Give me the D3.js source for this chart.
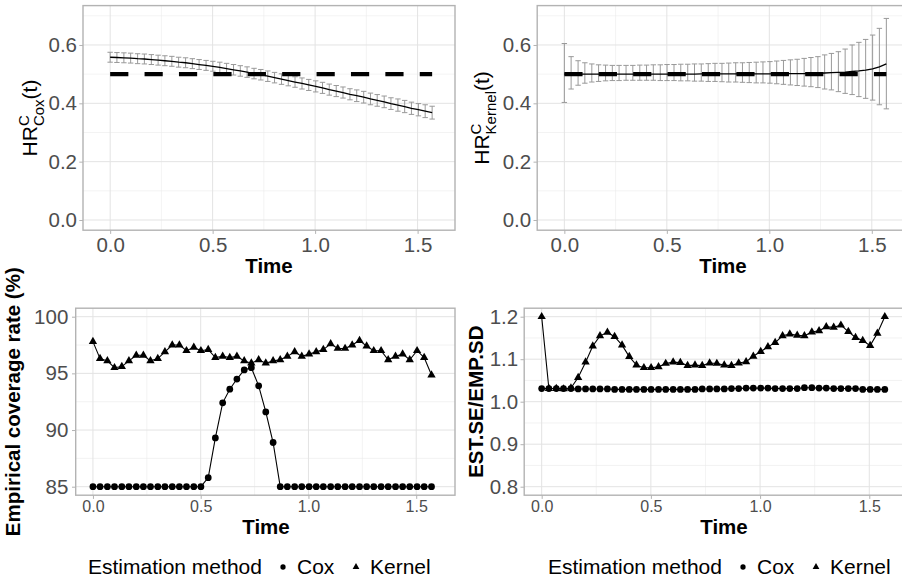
<!DOCTYPE html>
<html>
<head>
<meta charset="utf-8">
<script src="https://cdn.jsdelivr.net/npm/d3@7"></script>
<style>
  body { margin: 0; background: #fff; }
  svg { display: block; }
  text { font-family: "Liberation Sans", Arial, sans-serif; }
</style>
</head>
<body>
<svg id="chart" width="902" height="582"></svg>
<script>
// ---- data ----
const timePoints = [0.000, 0.033, 0.067, 0.100, 0.134, 0.167, 0.201, 0.234, 0.267, 0.301,
  0.334, 0.368, 0.401, 0.434, 0.468, 0.501, 0.535, 0.568, 0.602, 0.635,
  0.668, 0.702, 0.735, 0.769, 0.802, 0.836, 0.869, 0.902, 0.936, 0.969,
  1.003, 1.036, 1.069, 1.103, 1.136, 1.170, 1.203, 1.237, 1.270, 1.303,
  1.337, 1.370, 1.404, 1.437, 1.470, 1.504, 1.537, 1.571];

// top left: Cox estimate of HR(t) with error bars
const coxHR = [0.558, 0.557, 0.556, 0.555, 0.553, 0.552, 0.550, 0.548, 0.546, 0.544,
  0.541, 0.539, 0.536, 0.533, 0.530, 0.527, 0.523, 0.519, 0.515, 0.511,
  0.507, 0.502, 0.498, 0.493, 0.488, 0.483, 0.478, 0.473, 0.468, 0.463,
  0.458, 0.453, 0.447, 0.442, 0.437, 0.431, 0.426, 0.421, 0.415, 0.410,
  0.405, 0.399, 0.394, 0.389, 0.383, 0.378, 0.373, 0.368];
const coxHalfWidth = [0.017, 0.017, 0.017, 0.017, 0.017, 0.017, 0.017, 0.017, 0.017, 0.017,
  0.017, 0.017, 0.017, 0.017, 0.017, 0.017, 0.018, 0.018, 0.018, 0.018,
  0.018, 0.018, 0.018, 0.018, 0.018, 0.018, 0.018, 0.018, 0.019, 0.019,
  0.019, 0.019, 0.019, 0.019, 0.019, 0.019, 0.020, 0.020, 0.020, 0.020,
  0.020, 0.020, 0.021, 0.021, 0.021, 0.021, 0.022, 0.022];

// top right: kernel estimate of HR(t) with error bars
const kernelHR = [0.500, 0.500, 0.500, 0.500, 0.500, 0.500, 0.500, 0.500, 0.500, 0.500,
  0.500, 0.500, 0.500, 0.500, 0.500, 0.500, 0.500, 0.500, 0.500, 0.500,
  0.501, 0.501, 0.501, 0.501, 0.501, 0.501, 0.501, 0.501, 0.501, 0.501,
  0.501, 0.502, 0.502, 0.502, 0.502, 0.502, 0.502, 0.503, 0.504, 0.505,
  0.506, 0.507, 0.509, 0.511, 0.514, 0.518, 0.525, 0.535];
const kernelUpper = [0.605, 0.560, 0.546, 0.539, 0.535, 0.532, 0.531, 0.530, 0.530, 0.530,
  0.530, 0.531, 0.531, 0.532, 0.532, 0.533, 0.533, 0.534, 0.534, 0.535,
  0.535, 0.536, 0.537, 0.537, 0.538, 0.539, 0.539, 0.540, 0.541, 0.542,
  0.543, 0.545, 0.547, 0.549, 0.551, 0.554, 0.557, 0.560, 0.566, 0.571,
  0.577, 0.586, 0.600, 0.609, 0.619, 0.634, 0.657, 0.691];
const kernelLower = [0.403, 0.449, 0.462, 0.469, 0.473, 0.475, 0.477, 0.478, 0.478, 0.479,
  0.479, 0.479, 0.479, 0.479, 0.478, 0.478, 0.478, 0.477, 0.477, 0.476,
  0.476, 0.475, 0.475, 0.474, 0.473, 0.473, 0.472, 0.471, 0.470, 0.470,
  0.469, 0.467, 0.465, 0.463, 0.461, 0.459, 0.457, 0.454, 0.449, 0.446,
  0.440, 0.434, 0.430, 0.423, 0.417, 0.411, 0.395, 0.381];

const trueHR = 0.5;

// bottom left: empirical coverage rate (%)
const coverageCox = [85, 85, 85, 85, 85, 85, 85, 85, 85, 85,
  85, 85, 85, 85, 85, 85, 85.8, 89.3, 92.4, 93.6,
  94.5, 95.3, 95.5, 93.9, 91.6, 88.9, 85, 85, 85, 85,
  85, 85, 85, 85, 85, 85, 85, 85, 85, 85,
  85, 85, 85, 85, 85, 85, 85, 85];
const coverageKernel = [97.8, 96.3, 96.1, 95.5, 95.6, 96.1, 96.6, 96.6, 96.1, 96.3,
  96.9, 97.5, 97.5, 97.0, 97.3, 97.0, 97.1, 96.4, 96.5, 96.4,
  96.5, 96.1, 95.9, 96.2, 95.9, 96.1, 96.2, 96.5, 96.9, 96.5,
  96.7, 96.9, 97.1, 97.6, 97.2, 97.2, 97.5, 97.9, 97.4, 97.0,
  97.0, 96.2, 96.5, 96.7, 96.2, 97.0, 96.4, 94.85];

// bottom right: EST.SE / EMP.SD
const ratioCox = [1.031, 1.031, 1.031, 1.031, 1.031, 1.030, 1.030, 1.030, 1.030, 1.030,
  1.029, 1.029, 1.029, 1.029, 1.029, 1.029, 1.029, 1.029, 1.029, 1.029,
  1.029, 1.029, 1.030, 1.030, 1.030, 1.030, 1.031, 1.031, 1.032, 1.032,
  1.032, 1.032, 1.031, 1.031, 1.031, 1.031, 1.033, 1.033, 1.032, 1.032,
  1.031, 1.031, 1.031, 1.031, 1.029, 1.029, 1.029, 1.029];
const ratioKernel = [1.200, 1.031, 1.031, 1.030, 1.032, 1.057, 1.093, 1.131, 1.155, 1.163,
  1.153, 1.133, 1.106, 1.086, 1.080, 1.080, 1.082, 1.090, 1.093, 1.092,
  1.085, 1.086, 1.085, 1.091, 1.090, 1.086, 1.085, 1.091, 1.094, 1.107,
  1.118, 1.129, 1.139, 1.155, 1.159, 1.156, 1.155, 1.164, 1.167, 1.176,
  1.175, 1.180, 1.165, 1.151, 1.144, 1.132, 1.161, 1.200];

// ticks
const timeTicks = [0, 0.5, 1.0, 1.5];
const timeMinor = [0.25, 0.75, 1.25];
const hrTicks = [0, 0.2, 0.4, 0.6];
const hrMinor = [0.1, 0.3, 0.5, 0.7];
const coverageTicks = [85, 90, 95, 100];
const coverageMinor = [87.5, 92.5, 97.5];
const ratioTicks = [0.8, 0.9, 1.0, 1.1, 1.2];
const ratioMinor = [0.85, 0.95, 1.05, 1.15];
const methods = ["Cox", "Kernel"];

// ---- drawing ----
const svg = d3.select("#chart");
const tickColor = "#b3b3b3";
const labelColor = "#4d4d4d";

// builds one ggplot-like panel and returns its scales
function makePanel(box, xDomain, yDomain, opt) {
  const x = d3.scaleLinear().domain(xDomain).range([box.left, box.right]);
  const y = d3.scaleLinear().domain(yDomain).range([box.bottom, box.top]);
  const g = svg.append("g");

  g.append("rect")
    .attr("x", box.left).attr("y", box.top)
    .attr("width", box.right - box.left).attr("height", box.bottom - box.top)
    .attr("fill", "#fff");

  // minor then major grid
  g.selectAll(".vminor").data(timeMinor).enter().append("line")
    .attr("x1", d => x(d)).attr("x2", d => x(d))
    .attr("y1", box.top).attr("y2", box.bottom)
    .attr("stroke", "#ebebeb").attr("stroke-width", 0.6);
  g.selectAll(".hminor").data(opt.yMinor).enter().append("line")
    .attr("x1", box.left).attr("x2", box.right)
    .attr("y1", d => y(d)).attr("y2", d => y(d))
    .attr("stroke", "#ebebeb").attr("stroke-width", 0.6);
  g.selectAll(".vmajor").data(timeTicks).enter().append("line")
    .attr("x1", d => x(d)).attr("x2", d => x(d))
    .attr("y1", box.top).attr("y2", box.bottom)
    .attr("stroke", "#e3e3e3").attr("stroke-width", 1);
  g.selectAll(".hmajor").data(opt.yTicks).enter().append("line")
    .attr("x1", box.left).attr("x2", box.right)
    .attr("y1", d => y(d)).attr("y2", d => y(d))
    .attr("stroke", "#e3e3e3").attr("stroke-width", 1);

  const marks = svg.append("g");

  // axes
  const xAxis = svg.append("g")
    .attr("transform", `translate(0,${box.bottom})`)
    .call(d3.axisBottom(x).tickValues(timeTicks).tickFormat(d3.format(".1f"))
      .tickSize(3.7).tickPadding(opt.xPad));
  const yAxis = svg.append("g")
    .attr("transform", `translate(${box.left},0)`)
    .call(d3.axisLeft(y).tickValues(opt.yTicks).tickFormat(opt.yFormat)
      .tickSize(3.7).tickPadding(opt.yPad));
  [xAxis, yAxis].forEach(a => {
    a.select(".domain").remove();
    a.selectAll(".tick line").attr("stroke", tickColor).attr("stroke-width", 1);
    a.selectAll(".tick text").attr("fill", labelColor)
      .style("font-family", '"Liberation Sans", Arial, sans-serif');
  });
  xAxis.selectAll(".tick text").style("font-size", opt.xFont + "px");
  yAxis.selectAll(".tick text").style("font-size", opt.yFont + "px");

  // panel border on top
  const border = svg.append("rect")
    .attr("x", box.left).attr("y", box.top)
    .attr("width", box.right - box.left).attr("height", box.bottom - box.top)
    .attr("fill", "none").attr("stroke", tickColor).attr("stroke-width", 1.4);

  // x title
  svg.append("text")
    .attr("x", opt.timeX).attr("y", opt.timeY)
    .attr("text-anchor", "middle")
    .style("font-size", "20.5px").style("font-weight", "bold")
    .text("Time");

  return { x, y, marks, border };
}

// y title of the form HR^C_sub(t)
function hrTitle(cx, cy, sub) {
  const t = svg.append("text")
    .attr("transform", `translate(${cx},${cy}) rotate(-90)`)
    .attr("text-anchor", "middle")
    .style("font-size", "21px");
  t.append("tspan").text("HR");
  t.append("tspan").attr("dy", -8.5).style("font-size", "15px").text("C");
  t.append("tspan").attr("dx", -10.8).attr("dy", 15).style("font-size", "15px").text(sub);
  t.append("tspan").attr("dy", -6.5).text("(t)");
}

function boldTitle(cx, cy, label) {
  svg.append("text")
    .attr("transform", `translate(${cx},${cy}) rotate(-90)`)
    .attr("text-anchor", "middle")
    .style("font-size", "20.5px").style("font-weight", "bold")
    .text(label);
}

// error bar panel (top row)
function drawEstimate(p, est, lower, upper) {
  const cap = 2.7;
  const bars = p.marks.selectAll(".bar").data(timePoints).enter().append("g")
    .attr("stroke", "#999").attr("stroke-width", 1);
  bars.append("line")
    .attr("x1", d => p.x(d)).attr("x2", d => p.x(d))
    .attr("y1", (d, i) => p.y(lower[i])).attr("y2", (d, i) => p.y(upper[i]));
  bars.append("line")
    .attr("x1", d => p.x(d) - cap).attr("x2", d => p.x(d) + cap)
    .attr("y1", (d, i) => p.y(lower[i])).attr("y2", (d, i) => p.y(lower[i]));
  bars.append("line")
    .attr("x1", d => p.x(d) - cap).attr("x2", d => p.x(d) + cap)
    .attr("y1", (d, i) => p.y(upper[i])).attr("y2", (d, i) => p.y(upper[i]));

  const line = d3.line().x(d => p.x(d.t)).y(d => p.y(d.v));
  p.marks.append("path")
    .datum(timePoints.map((t, i) => ({ t, v: est[i] })))
    .attr("d", line)
    .attr("fill", "none").attr("stroke", "#000").attr("stroke-width", 1.3);

  p.marks.append("path")
    .datum(timePoints.map(t => ({ t, v: trueHR })))
    .attr("d", line)
    .attr("fill", "none").attr("stroke", "#000").attr("stroke-width", 4.3)
    .attr("stroke-dasharray", "18.2,16.2");
}

// point + line panel (bottom row)
const circleSym = d3.symbol().type(d3.symbolCircle).size(36)();
const triangleSym = d3.symbol().type(d3.symbolTriangle).size(30)();
function drawSeries(p, values, sym) {
  const line = d3.line().x(d => p.x(d.t)).y(d => p.y(d.v));
  const pts = timePoints.map((t, i) => ({ t, v: values[i] }));
  p.marks.append("path").datum(pts).attr("d", line)
    .attr("fill", "none").attr("stroke", "#000").attr("stroke-width", 1.1);
  p.marks.selectAll(null).data(pts).enter().append("path")
    .attr("d", sym)
    .attr("transform", d => `translate(${p.x(d.t)},${p.y(d.v)})`)
    .attr("fill", "#000");
}

function legend(x0, y0) {
  const g = svg.append("g").style("font-size", "21px");
  g.append("text").attr("x", x0).attr("y", y0).text("Estimation method");
  g.append("path").attr("d", d3.symbol().type(d3.symbolCircle).size(22)())
    .attr("transform", `translate(${x0 + 195},${y0 - 7})`);
  g.append("text").attr("x", x0 + 209).attr("y", y0).text(methods[0]);
  g.append("path").attr("d", d3.symbol().type(d3.symbolTriangle).size(20)())
    .attr("transform", `translate(${x0 + 268},${y0 - 7})`);
  g.append("text").attr("x", x0 + 282).attr("y", y0).text(methods[1]);
}

// top left
const pCox = makePanel({ left: 83, right: 455, top: 5.6, bottom: 230.2 },
  [-0.1325, 1.6825], [-0.035, 0.735],
  { yTicks: hrTicks, yMinor: hrMinor, yFormat: d3.format(".1f"),
    xPad: 3.5, yPad: 2.3, xFont: 20.5, yFont: 20.5, timeX: 269, timeY: 273 });
drawEstimate(pCox, coxHR,
  coxHR.map((v, i) => v - coxHalfWidth[i]), coxHR.map((v, i) => v + coxHalfWidth[i]));
hrTitle(37, 118, "Cox");

// top right
const pKernel = makePanel({ left: 537.2, right: 909.2, top: 5.6, bottom: 230.2 },
  [-0.1325, 1.6825], [-0.035, 0.735],
  { yTicks: hrTicks, yMinor: hrMinor, yFormat: d3.format(".1f"),
    xPad: 3.5, yPad: 2.3, xFont: 20.5, yFont: 20.5, timeX: 723, timeY: 273 });
drawEstimate(pKernel, kernelHR, kernelLower, kernelUpper);
hrTitle(489, 118, "Kernel");

// bottom left
const pCoverage = makePanel({ left: 75.7, right: 455, top: 308.2, bottom: 495.2 },
  [-0.08, 1.68], [84.25, 100.75],
  { yTicks: coverageTicks, yMinor: coverageMinor, yFormat: d3.format("d"),
    xPad: 1.5, yPad: 3.7, xFont: 16, yFont: 20.5, timeX: 266, timeY: 534 });
drawSeries(pCoverage, coverageCox, circleSym);
drawSeries(pCoverage, coverageKernel, triangleSym);
boldTitle(20, 401.7, "Empirical coverage rate (%)");
legend(88, 574);

// bottom right
const pRatio = makePanel({ left: 524.2, right: 908.6, top: 308.2, bottom: 495.2 },
  [-0.08, 1.68], [0.78, 1.22],
  { yTicks: ratioTicks, yMinor: ratioMinor, yFormat: d3.format(".1f"),
    xPad: 1.5, yPad: 2.3, xFont: 16, yFont: 20.5, timeX: 724, timeY: 534 });
drawSeries(pRatio, ratioCox, circleSym);
drawSeries(pRatio, ratioKernel, triangleSym);
boldTitle(483, 401.7, "EST.SE/EMP.SD");
legend(548, 574);
</script>
</body>
</html>
